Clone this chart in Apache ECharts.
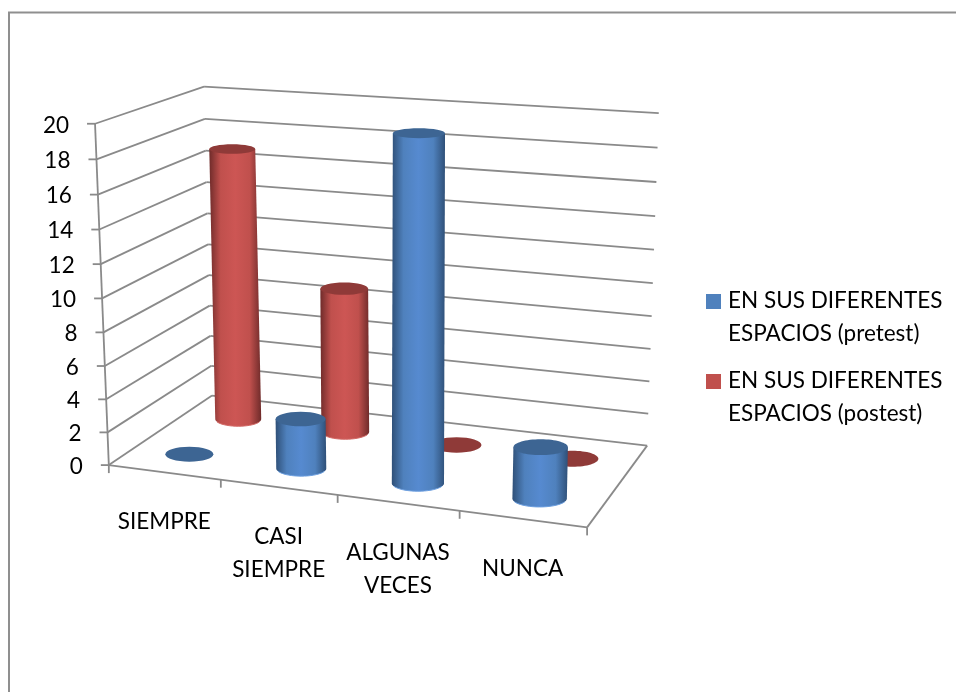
<!DOCTYPE html>
<html>
<head>
<meta charset="utf-8">
<style>html,body{margin:0;padding:0;background:#fff}#chart{width:956px;height:692px}</style>
<script src="https://cdn.jsdelivr.net/npm/echarts@6/dist/echarts.min.js"></script>
</head>
<body>
<div id="chart"></div>
<script>
// Survey answers per frequency category, before and after the intervention.
const categories = ['SIEMPRE', 'CASI\nSIEMPRE', 'ALGUNAS\nVECES', 'NUNCA'];
const pretest = [0, 3, 20, 3];
const postest = [17, 9, 0, 0];
const valueTicks = [0, 2, 4, 6, 8, 10, 12, 14, 16, 18, 20];
const pretestName = 'EN SUS DIFERENTES\nESPACIOS (pretest)';
const postestName = 'EN SUS DIFERENTES\nESPACIOS (postest)';

const FONT = 'Lato';
const GRID_COLOR = '#8a8a8a';
const BLUE = { top: '#3d6593', edge: '#2f5078', mid: '#568ad0', flat: '#4f81bd', rim: '#6c9fe0' };
const RED = { top: '#8f3a38', edge: '#6f2b2a', mid: '#cd5654', flat: '#c0504d', rim: '#d46a67' };

// Box corners of the 3D scene as [x, height, depth, screenX, screenY].
const sceneCorners = [
  [0, 0, 0, 108, 465.7], [1, 0, 0, 587, 527], [0, 1, 0, 96, 123.5],
  [0, 0, 1, 213, 395], [1, 0, 1, 647, 446], [0, 1, 1, 203, 87], [1, 1, 1, 659, 113]
];

// Least-squares fit of a projective camera to the scene corners.
function fitCamera(corners) {
  const n = 11, A = [], b = [];
  corners.forEach(([x, y, z, u, v]) => {
    A.push([x, y, z, 1, 0, 0, 0, 0, -u * x, -u * y, -u * z]); b.push(u);
    A.push([0, 0, 0, 0, x, y, z, 1, -v * x, -v * y, -v * z]); b.push(v);
  });
  const M = [];
  for (let i = 0; i < n; i++) {
    M.push([]);
    for (let j = 0; j <= n; j++) {
      let s = 0;
      for (let k = 0; k < A.length; k++) s += A[k][i] * (j === n ? b[k] : A[k][j]);
      M[i].push(s);
    }
  }
  for (let c = 0; c < n; c++) {
    let p = c;
    for (let r = c + 1; r < n; r++) if (Math.abs(M[r][c]) > Math.abs(M[p][c])) p = r;
    [M[c], M[p]] = [M[p], M[c]];
    for (let r = 0; r < n; r++) {
      if (r === c) continue;
      const f = M[r][c] / M[c][c];
      for (let j = c; j <= n; j++) M[r][j] -= f * M[c][j];
    }
  }
  return M.map((row, i) => row[n] / row[i]);
}
const cam = fitCamera(sceneCorners);
function project(x, y, z) {
  const w = cam[8] * x + cam[9] * y + cam[10] * z + 1;
  return [
    (cam[0] * x + cam[1] * y + cam[2] * z + cam[3]) / w,
    (cam[4] * x + cam[5] * y + cam[6] * z + cam[7]) / w
  ];
}

// Read a category position and a value through the axes and place them in the scene.
function toScene(params, api, cat, val, depth) {
  const cs = params.coordSys;
  const p = api.coord([cat, val]);
  return project((p[0] - cs.x) / cs.width, (cs.y + cs.height - p[1]) / cs.height, depth);
}

function line(a, b, width) {
  return {
    type: 'line',
    shape: { x1: a[0], y1: a[1], x2: b[0], y2: b[1] },
    style: { stroke: GRID_COLOR, lineWidth: width || 1.8 }
  };
}

function renderGridLine(params, api) {
  const v = api.value(0);
  const front = toScene(params, api, 0, v, 0);
  const back = toScene(params, api, 0, v, 1);
  const right = toScene(params, api, 4, v, 1);
  return {
    type: 'group',
    children: [
      line(front, back),
      line(back, right),
      line([front[0] - 8, front[1]], front),
      {
        type: 'text',
        style: {
          x: front[0] - 26, y: front[1] + 1.5, text: String(v), font: '22.5px ' + FONT,
          fill: '#000', align: 'right', verticalAlign: 'middle'
        }
      }
    ]
  };
}

function renderFloorEdges(params, api) {
  const a = toScene(params, api, 0, 0, 0);
  const b = toScene(params, api, 0, 20, 0);
  const c = toScene(params, api, 4, 0, 0);
  const d = toScene(params, api, 4, 0, 1);
  return { type: 'group', children: [line(a, b), line(a, c), line(c, d)] };
}

function renderCategoryTick(params, api) {
  const p = toScene(params, api, api.value(0), 0, 0);
  return line(p, [p[0], p[1] + 8]);
}

function renderCategoryLabel(params, api) {
  const i = params.dataIndex;
  const p = toScene(params, api, i + 0.5, 0, 0);
  return {
    type: 'text',
    style: {
      x: p[0], y: p[1] + 33, text: categories[i], font: '22.5px ' + FONT, lineHeight: 33,
      fill: '#000', align: 'center', verticalAlign: 'top'
    }
  };
}

// One cylinder standing on the floor; a zero value leaves only its flat disc.
// Discs flatten with height because the camera looks down from just above the box.
function cylinderRenderer(palette, depth) {
  return function (params, api) {
    const cat = api.value(0), val = api.value(1);
    const base = toScene(params, api, cat, 0, depth);
    const top = toScene(params, api, cat, val, depth);
    const side = toScene(params, api, cat + 0.218, 0, depth);
    const rx = side[0] - base[0];
    const ryBase = rx * 0.31;
    const ryTop = rx * (0.31 - 0.006 * val);
    const disc = { type: 'ellipse', shape: { cx: top[0], cy: top[1], rx: rx, ry: ryTop }, style: { fill: palette.top } };
    if (val === 0) return disc;
    const arc = [];
    for (let a = 0; a <= 24; a++) {
      const t = Math.PI * a / 24;
      arc.push([base[0] + rx * Math.cos(t), base[1] + ryBase * Math.sin(t)]);
    }
    return {
      type: 'group',
      children: [
        {
          type: 'polygon',
          shape: { points: [[top[0] - rx, top[1]], [top[0] + rx, top[1]]].concat(arc) },
          style: {
            fill: {
              type: 'linear', x: 0, y: 0, x2: 1, y2: 0,
              colorStops: [
                { offset: 0, color: palette.edge },
                { offset: 0.22, color: palette.flat },
                { offset: 0.5, color: palette.mid },
                { offset: 0.78, color: palette.flat },
                { offset: 1, color: palette.edge }
              ]
            }
          }
        },
        { type: 'polyline', shape: { points: arc.slice(3, 22) }, style: { fill: 'none', stroke: palette.rim, lineWidth: 1 } },
        disc
      ]
    };
  };
}

function helperSeries(renderItem, data, z) {
  return {
    type: 'custom', renderItem: renderItem, data: data, z: z,
    silent: true, clip: false, tooltip: { show: false }
  };
}
const centred = values => values.map((v, i) => [i + 0.5, v]);

const chart = echarts.init(document.getElementById('chart'), null, { renderer: 'canvas' });
chart.setOption({
  animation: false,
  backgroundColor: '#fff',
  grid: { left: 0, right: 0, top: 0, bottom: 0 },
  xAxis: { type: 'value', min: 0, max: 4, show: false },
  yAxis: { type: 'value', min: 0, max: 20, interval: 2, show: false },
  legend: {
    orient: 'vertical', left: 706, top: 284, padding: 0, itemWidth: 17, itemHeight: 60, itemGap: 14,
    // The swatch sits beside the first line of each two-line entry.
    icon: 'path://M0 0L17 0ZM0 7H15V22H0ZM0 60L0 60Z',
    selectedMode: false,
    data: [pretestName, postestName],
    textStyle: { fontFamily: FONT, fontSize: 22.5, lineHeight: 33, color: '#000' }
  },
  graphic: [{
    type: 'rect', z: 0, silent: true,
    shape: { x: 9, y: 12.5, width: 1000, height: 800 },
    style: { fill: 'none', stroke: '#8f8f8f', lineWidth: 2 }
  }],
  series: [
    helperSeries(renderGridLine, valueTicks.map(v => [v]), 1),
    helperSeries(renderFloorEdges, [[0]], 1),
    helperSeries(renderCategoryTick, [0, 1, 2, 3, 4].map(v => [v]), 1),
    helperSeries(renderCategoryLabel, categories.map((c, i) => [i]), 1),
    {
      type: 'custom', name: postestName, z: 3, clip: false, silent: true,
      itemStyle: { color: RED.flat },
      renderItem: cylinderRenderer(RED, 0.73),
      data: centred(postest)
    },
    {
      type: 'custom', name: pretestName, z: 4, clip: false, silent: true,
      itemStyle: { color: BLUE.flat },
      renderItem: cylinderRenderer(BLUE, 0.235),
      data: centred(pretest)
    }
  ]
});
</script>
</body>
</html>
